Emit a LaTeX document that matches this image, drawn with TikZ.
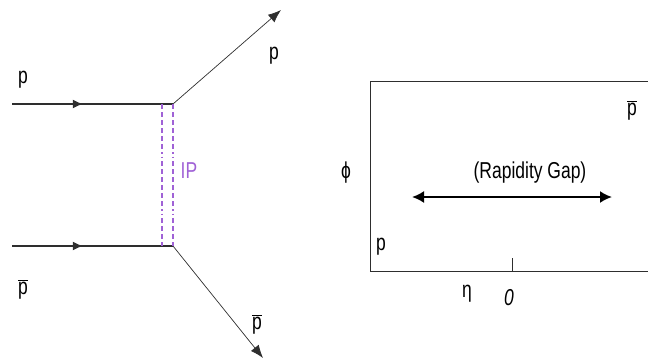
\documentclass[tikz,border=0pt]{standalone}
\usepackage{fontspec}
\setmainfont{Liberation Sans}
\usetikzlibrary{arrows.meta, decorations.markings}

\newcommand{\sq}[1]{\scalebox{0.76}[1]{#1}}
\newcommand{\pbar}{\(\overline{\mbox{p}}\)}

\begin{document}
\begin{tikzpicture}[
    x=1pt, y=-1pt,
    every node/.style={font=\fontsize{23}{26}\selectfont, inner sep=0pt},
    lbl/.style={anchor=base},
]

\definecolor{linecolor}{HTML}{2E2E2E}
\definecolor{pomcolor}{HTML}{A062D6}   % the pomeron lines, and IP

\tikzset{
    fermion/.style={line width=1.4pt, linecolor, postaction={decorate},
        decoration={markings, mark=at position 0.44 with
            {\arrow{Latex[length=10pt, width=9pt]}}}},
    outgoing/.style={line width=0.7pt, linecolor, -{Latex[length=13pt, width=10pt]}},
    pomeron/.style={line width=2.3pt, pomcolor,
        dash pattern=on 5pt off 3pt on 5pt off 3pt on 5pt off 3pt on 5pt off 3pt
                     on 5pt off 3pt on 5pt off 3pt on 1.5pt off 3pt on 1.5pt off 3pt},
}

\useasboundingbox (0,0) rectangle (648,362);

% ================================================================
%   left : the diagram,  vertices at (173,104) and (173,246)
%   right: the eta-phi plane, box from (370,81) to the right edge
% ================================================================

% ---------------------------------------------------------------- diagram
\coordinate (pin)    at (12, 104);
\coordinate (pbarin) at (12, 246);
\coordinate (vtop)   at (173, 104);
\coordinate (vbot)   at (173, 246);
\coordinate (ptop)   at (162, 104);
\coordinate (pbot)   at (162, 246);
\coordinate (pout)   at (281, 10);
\coordinate (pbarout) at (263, 358);

\draw[fermion] (pin) -- (vtop);
\draw[fermion] (pbarin) -- (vbot);
\draw[outgoing] (vtop) -- (pout);
\draw[outgoing] (vbot) -- (pbarout);

\draw[pomeron] (ptop) -- (pbot);
\draw[pomeron] (vtop) -- (vbot);

\node[lbl] (lpin)    at (23, 83)   {\sq{p}};
\node[lbl] (lpbarin) at (23, 294)  {\sq{\pbar}};
\node[lbl] (lpout)   at (274, 59)  {\sq{p}};
\node[lbl] (lpbarout) at (257, 329) {\sq{\pbar}};
\node[lbl, text=pomcolor] (lpom) at (189, 178) {\sq{IP}};

% ---------------------------------------------------------------- eta-phi plane
\coordinate (boxtr) at (648, 81);
\coordinate (boxtl) at (370, 81);
\coordinate (boxbl) at (370, 271);
\coordinate (boxbr) at (648, 271);
\coordinate (ticktop) at (512, 258);
\coordinate (tickbot) at (512, 271);
\coordinate (gapl) at (412, 197);
\coordinate (gapr) at (612, 197);

\draw[line width=0.8pt, linecolor] (boxtr) -- (boxtl) -- (boxbl) -- (boxbr);
\draw[line width=0.8pt, linecolor] (ticktop) -- (tickbot);
\draw[line width=2pt, {Latex[length=12pt, width=12pt]}-{Latex[length=12pt, width=12pt]}]
    (gapl) -- (gapr);

\node[lbl] (lgap)  at (530, 178) {\sq{(Rapidity Gap)}};
\node[lbl] (lphi)  at (346, 178) {\sq{ϕ}};
\node[lbl] (leta)  at (467, 297) {\sq{η}};
\node[lbl] (lzero) at (509, 305) {\sq{\itshape 0}};
\node[lbl] (lp)    at (381, 250) {\sq{p}};
\node[lbl] (lpbar) at (632, 115) {\sq{\pbar}};

\end{tikzpicture}
\end{document}
